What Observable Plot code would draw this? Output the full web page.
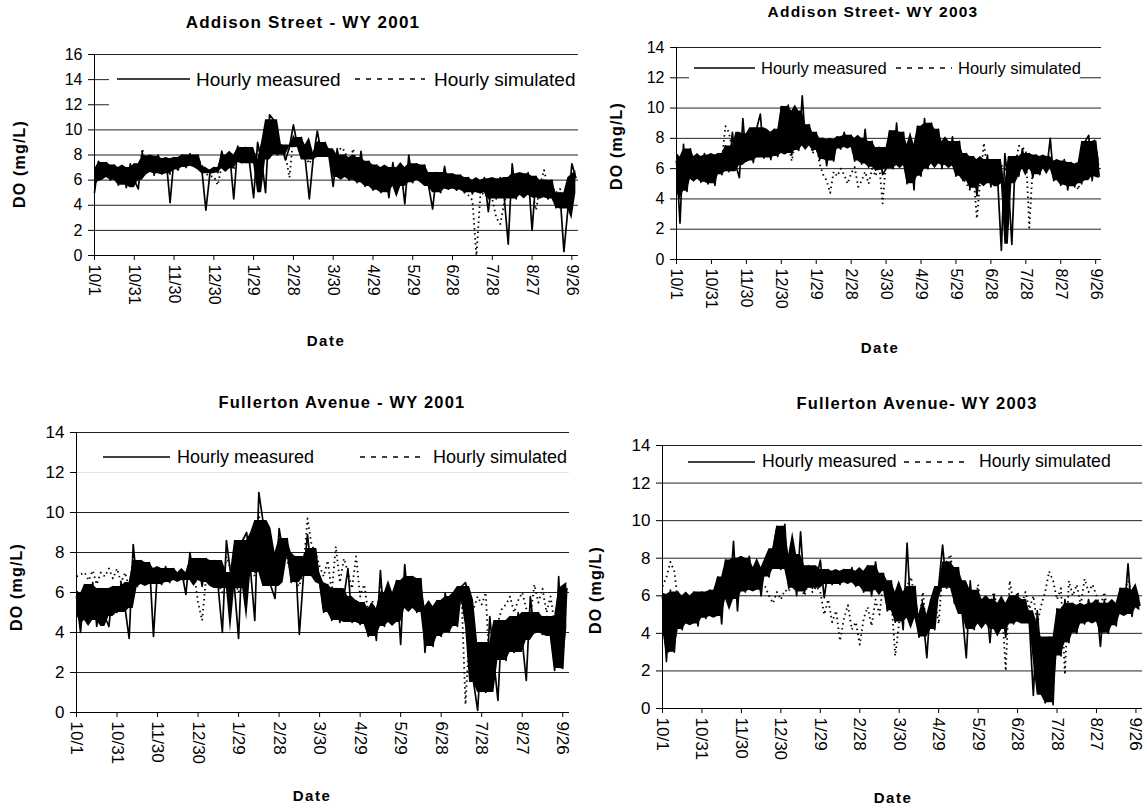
<!DOCTYPE html>
<html>
<head>
<meta charset="utf-8">
<script src="https://cdn.jsdelivr.net/npm/d3@7"></script>
<script src="https://cdn.jsdelivr.net/npm/@observablehq/plot@0.6"></script>
<style>
  body { margin: 0; background: #fff; }
  #root { position: relative; width: 1147px; height: 808px; overflow: hidden; background: #fff;
          font-family: "Liberation Sans", Arial, Helvetica, sans-serif; color: #000; }
  .abs { position: absolute; white-space: nowrap; line-height: 1; }
  .bold { font-weight: bold; }
  .panel { position: absolute; }
</style>
</head>
<body>
<div id="root"></div>
<script>
// ---------------- DATA ----------------
const dayStep = 3; // one value every 3 days from 10/1
const xTickDays = [0, 30, 60, 90, 120, 150, 180, 210, 240, 270, 300, 330, 360];
const xTickLabels = ["10/1", "10/31", "11/30", "12/30", "1/29", "2/28", "3/30", "4/29", "5/29", "6/28", "7/28", "8/27", "9/26"];
const yTicks16 = [0, 2, 4, 6, 8, 10, 12, 14, 16];
const yTicks14 = [0, 2, 4, 6, 8, 10, 12, 14];
const seriesNames = ["Hourly measured", "Hourly simulated"];
const panelTitles = ["Addison Street - WY 2001", "Addison Street- WY 2003", "Fullerton Avenue - WY 2001", "Fullerton Avenue- WY 2003"];

const addison2001Measured = [
  5.0, 7.5, 6.2, 7.4, 6.0, 7.2, 5.6, 7.0, 5.4, 7.3,
  6.0, 5.3, 8.2, 6.6, 7.9, 6.4, 8.0, 6.5, 7.7, 4.2,
  7.8, 6.8, 8.0, 7.0, 8.1, 7.1, 8.0, 6.8, 3.6, 6.5,
  7.0, 6.6, 8.3, 6.9, 8.0, 4.5, 8.7, 7.4, 8.6, 7.3,
  4.6, 9.0, 7.6, 5.0, 11.2, 10.8, 8.0, 8.8, 7.6, 8.6,
  10.4, 8.8, 9.4, 7.6, 4.5, 7.8, 9.9, 8.2, 9.0, 7.8,
  5.5, 8.5, 6.2, 8.0, 6.0, 7.8, 5.8, 8.3, 5.5, 7.5,
  5.2, 7.2, 5.0, 7.0, 4.6, 7.4, 5.5, 7.0, 4.1, 8.0,
  5.8, 7.3, 6.0, 7.2, 5.5, 3.7, 6.6, 5.0, 7.1, 5.3,
  6.5, 5.2, 6.4, 5.0, 6.2, 4.9, 6.0, 5.0, 6.2, 3.5,
  6.1, 4.5, 6.2, 4.6, 0.9, 7.3, 4.5, 6.5, 4.8, 6.6,
  2.0, 6.3, 4.6, 6.0, 4.5, 6.0, 3.8, 5.0, 0.3, 3.7,
  7.3, 6.2
];
const addison2001Simulated = [
  6.5, 6.8, 7.0, 6.8, 6.6, 6.8, 6.4, 6.5, 6.2, 6.8,
  6.5, 6.0, 8.5, 7.5, 7.2, 7.5, 7.3, 7.0, 7.4, 6.5,
  7.3, 7.6, 7.4, 7.6, 7.5, 7.3, 7.7, 7.2, 6.5, 6.3,
  6.3, 5.6, 7.2, 7.5, 7.6, 6.8, 8.0, 7.8, 8.2, 7.6,
  7.5, 8.4, 8.0, 7.8, 10.5, 9.5, 8.5, 8.2, 8.0, 6.2,
  9.5, 8.8, 8.2, 7.9, 7.3, 8.0, 9.2, 8.6, 8.4, 8.2,
  7.5, 8.0, 8.6, 8.3, 7.0, 8.5, 7.0, 6.8, 6.5, 6.6,
  6.2, 6.4, 6.0, 6.2, 5.8, 6.5, 6.4, 6.3, 6.0, 6.6,
  6.5, 6.4, 5.8, 6.6, 6.2, 5.6, 5.8, 5.7, 6.2, 5.8,
  5.7, 5.9, 5.6, 5.2, 4.8, 4.4, 0.0, 4.8, 5.0, 4.5,
  4.5, 3.0, 2.5, 4.2, 5.3, 5.5, 4.8, 5.8, 5.4, 5.7,
  5.2, 3.6, 5.6, 6.8, 5.4, 5.5, 5.0, 5.3, 4.8, 5.8,
  6.4, 6.5
];
const addison2003Measured = [
  6.5, 2.4, 7.6, 4.5, 7.3, 5.3, 6.8, 5.1, 7.0, 5.0,
  6.9, 4.9, 7.0, 5.6, 7.5, 5.8, 8.4, 6.2, 5.4, 9.3,
  6.5, 8.3, 6.4, 8.7, 9.6, 6.7, 8.4, 6.6, 8.6, 6.8,
  10.1, 7.0, 10.2, 6.9, 9.8, 7.2, 10.8, 7.5, 8.9, 7.2,
  8.4, 6.6, 8.0, 6.2, 7.9, 6.5, 8.1, 7.3, 8.4, 7.4,
  8.2, 6.5, 8.0, 6.3, 8.6, 6.1, 7.8, 5.9, 7.4, 5.6,
  6.0, 8.5, 6.0, 9.0, 6.2, 8.4, 5.0, 7.6, 4.6, 8.8,
  5.5, 9.3, 6.0, 9.0, 6.3, 8.6, 6.0, 7.8, 6.2, 8.1,
  5.5, 7.8, 5.2, 7.0, 4.7, 6.8, 4.2, 6.6, 5.0, 6.9,
  4.8, 6.6, 5.0, 0.6, 7.0, 5.0, 1.0, 6.8, 5.5, 7.3,
  6.0, 7.0, 5.4, 6.9, 5.6, 6.8, 6.0, 8.0, 5.2, 6.5,
  4.9, 6.6, 4.6, 6.4, 4.8, 6.3, 5.0, 7.8, 8.2, 5.2,
  7.8, 5.5
];
const addison2003Simulated = [
  6.5, 5.5, 6.8, 6.0, 6.4, 6.0, 6.2, 5.8, 6.0, 5.6,
  6.0, 5.8, 6.5, 6.6, 8.8, 8.4, 7.2, 7.5, 7.0, 7.8,
  7.2, 7.5, 7.0, 7.8, 7.4, 7.0, 7.8, 7.6, 7.6, 7.5,
  7.8, 7.2, 7.6, 6.5, 7.8, 8.0, 8.0, 8.4, 8.0, 7.0,
  7.6, 6.3, 5.6, 5.2, 4.4, 5.8, 5.5, 6.0, 5.6, 5.0,
  5.7, 6.1, 4.8, 5.2, 5.8, 5.0, 6.0, 5.5, 6.3, 3.7,
  6.5, 7.0, 7.5, 7.2, 6.5, 6.8, 5.8, 6.4, 5.6, 6.8,
  6.4, 7.0, 7.2, 7.4, 6.6, 7.0, 6.8, 6.5, 6.6, 6.2,
  6.0, 5.8, 5.4, 5.0, 4.6, 5.5, 2.7, 5.4, 7.7, 5.8,
  5.8, 5.5, 6.0, 6.2, 6.0, 5.5, 6.0, 6.3, 7.5, 7.4,
  7.2, 2.1, 6.2, 6.0, 6.4, 6.5, 6.2, 6.6, 5.6, 5.8,
  5.4, 6.0, 5.5, 6.0, 5.3, 4.6, 5.8, 6.4, 7.0, 6.6,
  6.5, 6.2
];
const fullerton2001Measured = [
  5.8, 4.0, 6.4, 4.6, 6.5, 4.3, 6.2, 4.8, 4.3, 6.3,
  5.0, 6.5, 5.2, 3.7, 8.4, 6.3, 7.6, 6.4, 7.5, 3.8,
  7.2, 6.4, 7.3, 6.5, 7.2, 6.6, 7.0, 5.9, 8.0, 6.6,
  7.7, 6.3, 7.7, 6.5, 7.6, 6.2, 4.0, 8.6, 7.0, 6.2,
  3.7, 8.6, 9.0, 7.0, 4.6, 11.0, 9.6, 7.4, 6.3, 5.7,
  9.2, 8.0, 8.7, 6.5, 7.8, 3.9, 6.8, 8.9, 7.0, 8.2,
  6.5, 5.0, 6.4, 4.6, 6.2, 4.5, 5.8, 7.2, 4.5, 5.6,
  4.4, 5.5, 3.8, 5.2, 3.6, 7.1, 4.3, 6.0, 4.5, 6.6,
  3.4, 7.4, 5.2, 6.8, 5.0, 6.7, 3.0, 5.3, 3.3, 5.6,
  3.8, 6.0, 4.0, 5.8, 4.3, 6.3, 6.5, 5.6, 1.5, 0.1,
  3.5, 1.0, 4.8, 2.6, 0.6, 4.6, 2.6, 4.8, 3.0, 5.0,
  3.6, 1.6, 5.8, 4.0, 5.0, 3.9, 4.8, 3.8, 2.1, 6.8,
  2.2, 6.2
];
const fullerton2001Simulated = [
  6.8, 6.9, 7.0, 6.6, 7.1, 6.4, 7.0, 6.8, 7.2, 6.7,
  7.2, 6.5, 7.0, 6.2, 7.8, 7.0, 6.9, 6.8, 6.9, 6.5,
  6.8, 6.9, 6.7, 6.9, 6.8, 6.9, 6.7, 6.6, 7.2, 7.0,
  5.5, 4.6, 6.8, 6.6, 7.0, 6.4, 6.0, 7.8, 7.2, 6.6,
  6.0, 8.0, 8.4, 7.5, 6.8, 10.0, 7.4, 6.8, 6.4, 6.3,
  8.5, 8.2, 7.6, 7.0, 6.5, 6.3, 7.2, 9.7, 8.4, 8.0,
  7.3, 6.8, 7.6, 6.0, 8.3, 6.5, 7.7, 7.0, 6.2, 7.8,
  5.8, 6.4, 5.0, 5.6, 4.8, 6.4, 5.2, 6.0, 5.8, 6.2,
  5.5, 6.6, 6.0, 6.4, 5.8, 6.3, 4.5, 5.0, 4.8, 5.2,
  5.6, 5.4, 5.0, 5.5, 5.6, 6.0, 0.4, 4.2, 5.2, 5.8,
  5.4, 6.0, 1.8, 3.5, 4.5, 5.2, 5.4, 5.8, 5.0, 5.6,
  6.0, 5.2, 4.8, 6.4, 5.5, 6.2, 5.0, 5.8, 4.4, 6.0,
  5.4, 6.2
];
const fullerton2003Measured = [
  6.0, 2.5, 6.3, 3.0, 6.2, 4.2, 6.0, 4.5, 6.2, 4.4,
  6.2, 4.8, 6.3, 4.9, 7.0, 4.5, 7.9, 5.8, 8.9, 5.2,
  8.0, 6.2, 8.1, 6.3, 7.5, 6.0, 8.0, 7.0, 8.5, 9.7,
  7.4, 9.8, 6.4, 8.2, 6.0, 9.4, 6.2, 7.6, 6.4, 6.9,
  7.9, 5.9, 7.4, 6.6, 7.3, 6.6, 7.4, 6.7, 7.5, 6.5,
  7.3, 6.2, 7.6, 6.0, 7.8, 6.3, 7.2, 5.2, 6.8, 4.6,
  6.2, 4.2, 8.8, 4.8, 6.5, 3.8, 5.0, 2.7, 5.8, 4.2,
  6.5, 8.7, 6.4, 7.8, 5.6, 7.5, 5.0, 2.7, 6.8, 4.2,
  6.3, 4.5, 5.8, 3.5, 6.0, 4.2, 5.6, 3.8, 6.0, 4.5,
  6.1, 4.6, 5.8, 4.5, 0.7, 5.2, 2.5, 0.3, 3.8, 0.2,
  5.3, 2.8, 5.8, 3.5, 5.6, 4.0, 5.5, 4.5, 5.8, 4.6,
  5.6, 3.3, 5.8, 4.0, 5.6, 4.4, 6.4, 5.0, 7.7, 4.9,
  6.3, 5.5
];
const fullerton2003Simulated = [
  6.5, 7.0, 7.8, 7.3, 5.5, 5.2, 5.6, 5.0, 5.8, 5.2,
  5.6, 5.4, 6.0, 5.6, 6.6, 6.8, 6.5, 7.0, 6.8, 6.5,
  7.2, 6.8, 7.0, 6.6, 7.0, 6.7, 6.5, 6.0, 5.6, 6.2,
  5.8, 6.3, 6.2, 7.0, 6.3, 6.5, 6.0, 6.8, 6.2, 6.5,
  6.2, 5.0, 5.8, 4.6, 5.2, 3.6, 4.8, 5.5, 4.2, 4.6,
  3.4, 4.8, 5.4, 4.4, 5.8, 5.0, 6.8, 6.2, 5.8, 2.8,
  4.6, 5.4, 6.5, 7.0, 5.8, 4.6, 6.2, 4.0, 5.0, 6.0,
  4.5, 7.4, 7.8, 8.2, 6.4, 7.2, 6.6, 5.6, 6.2, 5.4,
  6.6, 5.0, 6.0, 5.5, 6.2, 5.2, 5.6, 2.0, 6.8, 5.6,
  6.2, 5.5, 6.2, 5.3, 6.0, 4.5, 5.5, 6.2, 7.3, 6.8,
  5.8, 6.4, 1.8, 6.8, 6.0, 6.6, 5.5, 6.9, 6.2, 6.6,
  6.0, 5.4, 6.2, 5.0, 5.6, 5.2, 6.0, 6.2, 6.8, 6.0,
  5.8, 5.6
];

// ---------------- LAYOUT ----------------
const FONT = '"Liberation Sans", Arial, Helvetica, sans-serif';
const panels = [
  { title: panelTitles[0], measured: addison2001Measured, simulated: addison2001Simulated, yTicks: yTicks16,
    left: 0, top: 0, width: 580, height: 330, mL: 94, mR: 2, mT: 54, mB: 75, tickFont: 16,
    titlePos: [303, 22, 17], yLab: [20, 164], xLab: [326, 340],
    legend: { box: [109, 63, 472, 47, "#fff"], y: 79, fs: 19, solid: [117, 190], t1: 196, dot: [355, 425], t2: 434 } },
  { title: panelTitles[1], measured: addison2003Measured, simulated: addison2003Simulated, yTicks: yTicks14,
    left: 580, top: 0, width: 567, height: 330, mL: 96, mR: 46, mT: 47, mB: 71, tickFont: 16,
    titlePos: [873, 12, 15.5], yLab: [617, 146], xLab: [880, 347],
    legend: { box: [689, 55, 391, 35, "#fff"], y: 68, fs: 16.5, solid: [694, 755], t1: 761, dot: [896, 952], t2: 958 } },
  { title: panelTitles[2], measured: fullerton2001Measured, simulated: fullerton2001Simulated, yTicks: yTicks14,
    left: 0, top: 380, width: 580, height: 428, mL: 76, mR: 11, mT: 52, mB: 96, tickFont: 17,
    titlePos: [342, 402, 16.5], yLab: [17, 587], xLab: [312, 795],
    legend: { box: [77, 440, 492, 37, "rgba(255,255,255,0.88)"], y: 457, fs: 18, solid: [103, 170], t1: 177, dot: [360, 423], t2: 433 } },
  { title: panelTitles[3], measured: fullerton2003Measured, simulated: fullerton2003Simulated, yTicks: yTicks14,
    left: 580, top: 380, width: 567, height: 428, mL: 82, mR: 5, mT: 65, mB: 100, tickFont: 17,
    titlePos: [917, 403, 16.5], yLab: [596, 590], xLab: [893, 797],
    legend: { box: [663, 450, 479, 28, "#fff"], y: 462, fs: 17.7, solid: [688, 755], t1: 762, dot: [904, 969], t2: 979 } }
];

const root = document.getElementById("root");

function addText(txt, x, y, size, opts = {}) {
  const d = document.createElement("div");
  d.className = "abs" + (opts.bold ? " bold" : "");
  d.textContent = txt;
  d.style.fontSize = size + "px";
  if (opts.spacing) d.style.letterSpacing = opts.spacing + "px";
  d.style.left = x + "px";
  d.style.top = y + "px";
  let tf = opts.center ? "translate(-50%,-50%)" : "translate(0,-50%)";
  if (opts.rotate) tf += " rotate(" + opts.rotate + "deg)";
  d.style.transform = tf;
  root.appendChild(d);
  return d;
}

function addLegendLine(x1, x2, y, dashed) {
  const ns = "http://www.w3.org/2000/svg";
  const s = document.createElementNS(ns, "svg");
  s.setAttribute("width", x2 - x1);
  s.setAttribute("height", 6);
  s.style.position = "absolute";
  s.style.left = x1 + "px";
  s.style.top = (y - 3) + "px";
  const l = document.createElementNS(ns, "line");
  l.setAttribute("x1", 0); l.setAttribute("x2", x2 - x1);
  l.setAttribute("y1", 3); l.setAttribute("y2", 3);
  l.setAttribute("stroke", "#000");
  l.setAttribute("stroke-width", 1.6);
  if (dashed) l.setAttribute("stroke-dasharray", "5,6");
  s.appendChild(l);
  root.appendChild(s);
}

// dense core of the measured trace: robust range of 5 neighbouring readings (Plot window transform),
// isolated spikes are left to the line itself
function measuredBand(rows) {
  return Plot.areaY(rows, Plot.map(
    { y1: Plot.window({ k: 5, anchor: "middle", reduce: "p25" }),
      y2: Plot.window({ k: 5, anchor: "middle", reduce: "p75" }) },
    { x: "day", y1: "v", y2: "v", fill: "#000" }
  ));
}

for (const p of panels) {
  const measuredRows = p.measured.map((v, i) => ({ day: i * dayStep, v }));
  const simulatedRows = p.simulated.map((v, i) => ({ day: i * dayStep, v }));
  const yMax = p.yTicks[p.yTicks.length - 1];
  const chart = Plot.plot({
    width: p.width,
    height: p.height,
    marginLeft: p.mL, marginRight: p.mR, marginTop: p.mT, marginBottom: p.mB,
    style: { fontFamily: FONT, fontSize: p.tickFont + "px", color: "#000", background: "transparent", overflow: "visible" },
    x: { domain: [0, 365] },
    y: { domain: [0, yMax] },
    marks: [
      Plot.ruleY(p.yTicks, { stroke: "#222", strokeWidth: 1 }),
      Plot.lineY(simulatedRows, { x: "day", y: "v", stroke: "#000", strokeWidth: 1.8, strokeDasharray: "1.5,3.5", strokeLinecap: "butt" }),
      measuredBand(measuredRows),
      Plot.lineY(measuredRows, { x: "day", y: "v", stroke: "#000", strokeWidth: 1.7 }),
      Plot.ruleX([0], { stroke: "#000", strokeWidth: 1 }),
      Plot.ruleY([0], { stroke: "#000", strokeWidth: 1 }),
      Plot.axisY(p.yTicks, { anchor: "left", tickSize: 6, tickPadding: 6, label: null, fontSize: p.tickFont }),
      Plot.axisX(xTickDays, { anchor: "bottom", tickSize: 5, tickPadding: 4, tickRotate: 90, label: null,
        fontSize: p.tickFont, tickFormat: (d) => xTickLabels[xTickDays.indexOf(d)] })
    ]
  });
  chart.classList.add("panel");
  chart.style.left = p.left + "px";
  chart.style.top = p.top + "px";
  root.appendChild(chart);

  // legend
  const L = p.legend;
  const box = document.createElement("div");
  box.style.position = "absolute";
  box.style.left = L.box[0] + "px"; box.style.top = L.box[1] + "px";
  box.style.width = L.box[2] + "px"; box.style.height = L.box[3] + "px";
  box.style.background = L.box[4];
  root.appendChild(box);
  addLegendLine(L.solid[0], L.solid[1], L.y, false);
  addText(seriesNames[0], L.t1, L.y, L.fs);
  addLegendLine(L.dot[0], L.dot[1], L.y, true);
  addText(seriesNames[1], L.t2, L.y, L.fs);

  // titles and axis labels
  addText(p.title, p.titlePos[0], p.titlePos[1], p.titlePos[2], { bold: true, center: true, spacing: 1.2 });
  addText("DO (mg/L)", p.yLab[0], p.yLab[1], 16, { bold: true, center: true, rotate: -90, spacing: 1.2 });
  addText("Date", p.xLab[0], p.xLab[1], 15, { bold: true, center: true, spacing: 1.5 });
}
</script>
</body>
</html>
